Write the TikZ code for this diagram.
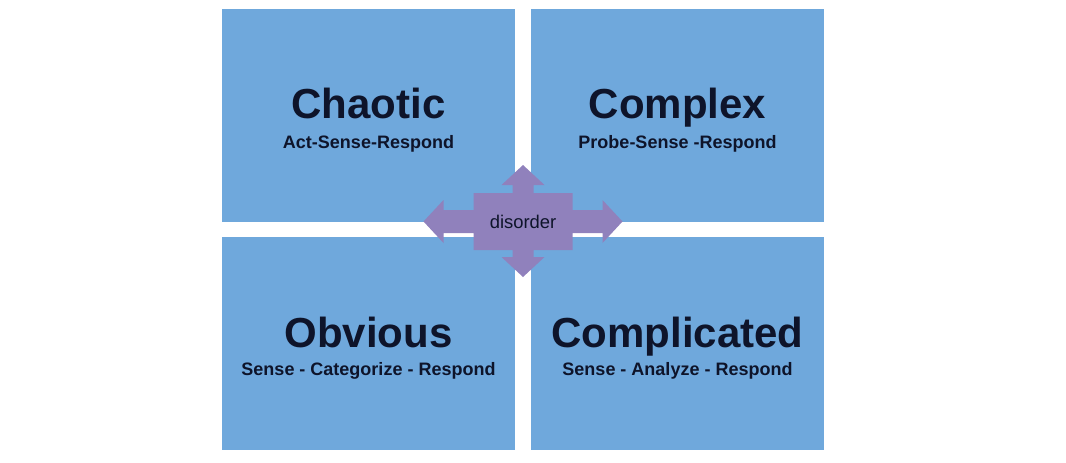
\documentclass[tikz,border=0pt]{standalone}
\usepackage{fontspec}
\setmainfont{Liberation Sans}
\usetikzlibrary{positioning}
\definecolor{boxblue}{RGB}{111,168,220}
\definecolor{crosspurple}{RGB}{144,129,188}
\definecolor{inkblue}{RGB}{14,20,42}
\tikzset{
    quad/.style = {rectangle, fill=boxblue, inner sep=0pt, minimum width=219.75pt, minimum height=159.75pt},
    title/.style = {anchor=base, inner sep=0pt, text=inkblue, font=\bfseries\fontsize{31.5}{36}\selectfont},
    motto/.style = {anchor=base, inner sep=0pt, text=inkblue, font=\bfseries\fontsize{13.5}{16}\selectfont},
    hubtext/.style = {inner sep=0pt, text=inkblue, font=\fontsize{13.8}{16}\selectfont},
    hubfill/.style = {fill=crosspurple}
}

\begin{document}
\begin{tikzpicture}[x=0.75pt,y=-0.75pt]
\path[use as bounding box] (0,0) rectangle (1066,462);
%
\node[quad] at (368.5,115.5) (chaotic) {};
\node[quad] at (677.5,115.5) (complex) {};
\node[quad] at (368.5,343) (obvious) {};
\node[quad] at (677.5,343) (complicated) {};
%
\node[title] at (368.5,118.5) (chaotic-t) {Chaotic};
\node[motto] at (368.5,148) (chaotic-m) {Act-Sense-Respond};
\node[title] at (677.5,118.5) (complex-t) {Complex};
\node[motto] at (677.5,148) (complex-m) {Probe-Sense -Respond};
\node[title] at (368.5,347) (obvious-t) {Obvious};
\node[motto] at (368.5,375.5) (obvious-m) {Sense - Categorize - Respond};
\node[title] at (677.5,347) (complicated-t) {Complicated};
\node[motto] at (677.5,375.5) (complicated-m) {Sense - Analyze - Respond};
%
\coordinate (hub) at (523,221.5);
\fill[hubfill,shift={(hub)}] (0,-56.5) -- (21.5,-36.5) -- (10.5,-36.5) -- (10.5,-28.5)
  -- (49.5,-28.5) -- (49.5,-11.5) -- (79.5,-11.5) -- (79.5,-21.5) -- (99.5,0)
  -- (79.5,21.5) -- (79.5,11.5) -- (49.5,11.5) -- (49.5,28.5) -- (10.5,28.5)
  -- (10.5,35.5) -- (21.5,35.5) -- (0,55.5) -- (-21.5,35.5) -- (-10.5,35.5)
  -- (-10.5,28.5) -- (-49.5,28.5) -- (-49.5,11.5) -- (-79.5,11.5) -- (-79.5,21.5)
  -- (-99.5,0) -- (-79.5,-21.5) -- (-79.5,-11.5) -- (-49.5,-11.5) -- (-49.5,-28.5)
  -- (-10.5,-28.5) -- (-10.5,-36.5) -- (-21.5,-36.5) -- cycle;
\node[hubtext] at (hub) (disorder) {disorder};

\end{tikzpicture}
\end{document}
